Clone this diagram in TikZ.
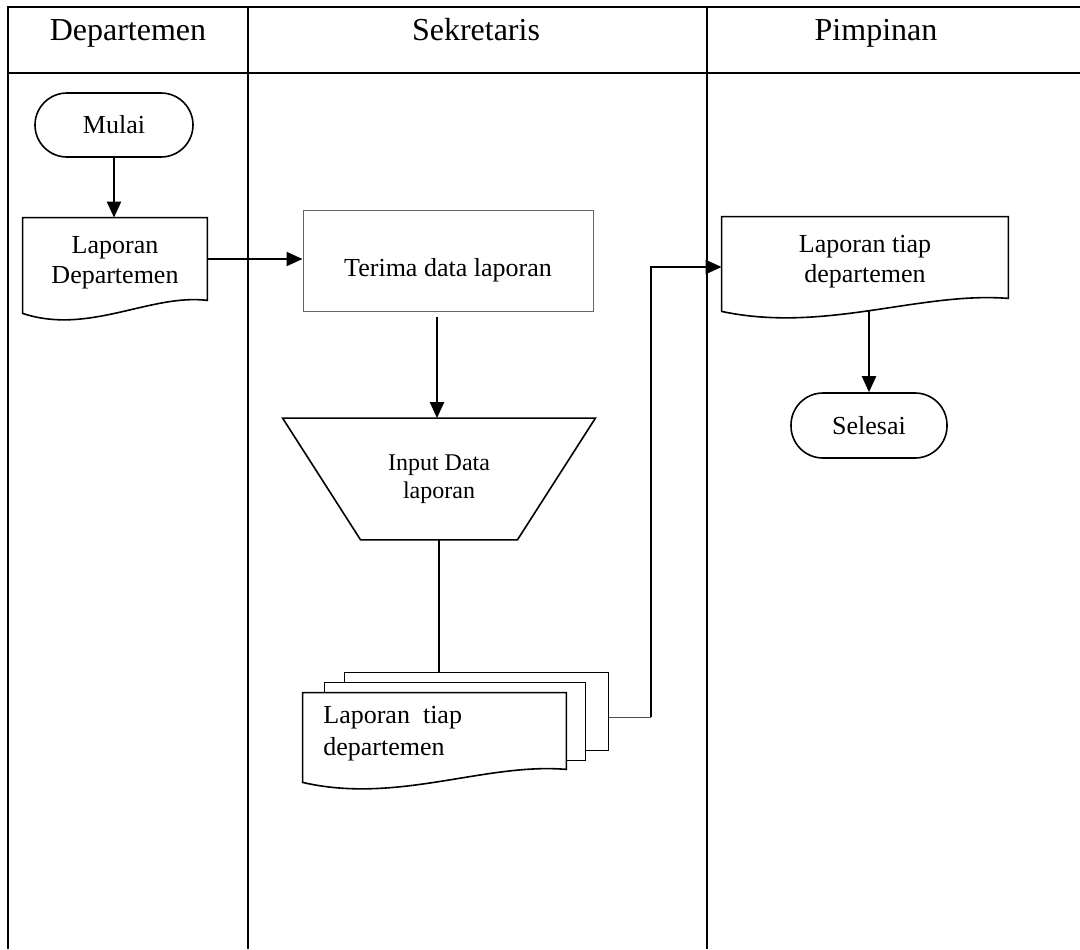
\documentclass[tikz,border=0pt]{standalone}
\usepackage{fontspec}
\setmainfont{Liberation Serif}
\usetikzlibrary{arrows.meta,calc,backgrounds}
\tikzset{
 tableline/.style={line width=1pt},
 flow/.style={line width=1.1pt,-{Triangle[length=8pt,width=7pt]}},
 plainflow/.style={line width=1.1pt},
 outline/.style={line width=0.8pt},
 terminal/.style={draw,outline,rounded corners=16pt,font=\fontsize{13pt}{15pt}\selectfont,inner sep=0pt},
 docnode/.style={inner sep=0pt,align=center,font=\fontsize{13pt}{15pt}\selectfont},
 header/.style={anchor=base,font=\fontsize{16pt}{18pt}\selectfont},
}
\newcommand\docoutline[2]{%
 \filldraw[outline,fill=white] ($(#1.south west)+(0,13)$) -- (#1.north west) -- (#1.north east) -- (#1.south east)
   .. controls ($(#1.south east)+(-0.31*#2,-7)$) and ($(#1.south west)+(0.36*#2,35)$) .. ($(#1.south west)+(0,13)$) -- cycle;}
\begin{document}
\begin{tikzpicture}[x=0.5pt,y=-0.5pt]
\useasboundingbox (0,0) rectangle (1080,949);
% headers
\node[header] (h1) at (128,40) {Departemen};
\node[header] (h2) at (476,40) {Sekretaris};
\node[header] (h3) at (876,40) {Pimpinan};
% flow nodes
\node[terminal,minimum width=79pt,minimum height=32pt] (mulai) at (114,125) {Mulai};
\node[minimum width=92pt,minimum height=41pt,inner sep=0pt,
      label={[docnode,yshift=-2pt]center:Laporan\\Departemen}] (doc1) at (115,259) {};
\node[draw=black!60,line width=0.5pt,minimum width=145pt,minimum height=50.5pt,
      label={[docnode,yshift=-5pt]center:Terima data laporan}] (terima) at (448,260.5) {};
\node[minimum width=156pt,minimum height=60.5pt,inner sep=0pt,align=center,
      font=\fontsize{12pt}{14pt}\selectfont] (trap) at (439,479) {Input Data\\laporan};
\draw[outline] (trap.north west) -- (trap.north east) -- ($(trap.south east)+(-78,0)$)
   -- ($(trap.south west)+(78,0)$) -- cycle;
\node[minimum width=131.5pt,minimum height=38.5pt,inner sep=0pt] (st3) at (476.5,711.5) {};
\node[minimum width=130pt,minimum height=38.5pt,inner sep=0pt] (st2) at (455,721.5) {};
\node[minimum width=131.5pt,minimum height=38pt,inner sep=0pt] (st1) at (434.5,731) {};
\node[docnode,align=left,anchor=north west,font=\fontsize{13pt}{16pt}\selectfont] (st1txt) at (323,706) {Laporan~~tiap\\departemen};
\node[minimum width=143pt,minimum height=40.5pt,inner sep=0pt,
      label={[docnode,yshift=-2pt]center:Laporan tiap\\departemen}] (doc3) at (865,257.5) {};
\node[terminal,minimum width=78pt,minimum height=32.5pt] (selesai) at (869,425.5) {Selesai};
\begin{scope}[on background layer]
 % table
 \draw[tableline] (8,949) -- (8,7) -- (1080,7);
 \draw[tableline] (8,73) -- (1080,73);
 \draw[tableline] (248,7) -- (248,949);
 \draw[tableline] (707,7) -- (707,949);
 % connectors
 \draw[flow] (mulai.south) -- (mulai.south |- doc1.north);
 \draw[flow] (doc1.east) -- (doc1.east -| terima.west);
 \coordinate (t1) at ($(terima.south)+(-11,5)$);
 \draw[flow] (t1) -- (t1 |- trap.north);
 \draw[plainflow] (trap.south) -- (trap.south |- st3.north);
 \coordinate (b1) at (651,717);
 \coordinate (b2) at (651,267);
 \draw[line width=0.5pt,black!70] (st3.east |- b1) -- (b1);
 \draw[flow] (b1) -- (b2) -- (b2 -| doc3.west);
 \draw[flow] (doc3.south -| selesai.north) -- (selesai.north);
 % document shapes
 \docoutline{doc1}{184}
 \docoutline{doc3}{286}
 \filldraw[outline,fill=white] (st3.south west) rectangle (st3.north east);
 \filldraw[outline,fill=white] (st2.south west) rectangle (st2.north east);
 \docoutline{st1}{263}
\end{scope}
\end{tikzpicture}
\end{document}
